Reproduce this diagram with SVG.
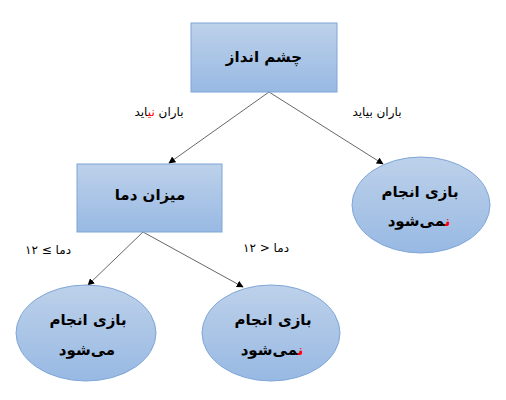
<svg xmlns="http://www.w3.org/2000/svg" width="506" height="400" viewBox="0 0 506 400">
<style>
.node{stroke:#7ea6d8;stroke-width:1}
.t{font-family:"DejaVu Sans",sans-serif;font-weight:bold;font-size:15px;fill:#000;text-anchor:middle}
.l{font-family:"DejaVu Sans",sans-serif;font-size:12px;fill:#000;text-anchor:middle}
.red{fill:#ff0000}
.c{stroke:#404040;stroke-width:0.8;fill:none;marker-end:url(#ah)}
</style>
<defs>
<linearGradient id="g" x1="0" y1="0" x2="0" y2="1">
<stop offset="0" stop-color="#bdd1ea"/>
<stop offset="1" stop-color="#98b9e3"/>
</linearGradient>
<marker id="ah" viewBox="0 0 10 10" refX="9" refY="5" markerWidth="7" markerHeight="7" markerUnits="userSpaceOnUse" orient="auto">
<path d="M0,0 L10,5 L0,10 z" fill="#000"/>
</marker>
</defs>
<rect width="506" height="400" fill="#fff"/>
<g id="connectors">
<line class="c" x1="269" y1="92" x2="169" y2="163"/>
<line class="c" x1="269" y1="92" x2="383" y2="164"/>
<line class="c" x1="143" y1="232" x2="88" y2="285"/>
<line class="c" x1="143" y1="232" x2="243" y2="287"/>
</g>
<g id="labels">
<text class="l" x="159" y="116">باران <tspan class="red">نی</tspan>اید</text>
<text class="l" x="377" y="116">باران بیاید</text>
<text class="l" x="48" y="254" direction="ltr">۱۲ ≤ دما</text>
<text class="l" x="266" y="252" direction="ltr">۱۲ &gt; دما</text>
</g>
<g id="n1">
<rect class="node" x="191" y="23" width="146" height="69" fill="url(#g)"/>
<text class="t" x="264" y="62">چشم انداز</text>
</g>
<g id="n2">
<rect class="node" x="77" y="164" width="145" height="68" fill="url(#g)"/>
<text class="t" x="150" y="200">میزان دما</text>
</g>
<g id="n3">
<ellipse class="node" cx="421" cy="205" rx="69" ry="48" fill="url(#g)"/>
<text class="t" x="420" y="197">بازی انجام</text>
<text class="t" x="419" y="226"><tspan class="red">ن</tspan>می‌شود</text>
</g>
<g id="n4">
<ellipse class="node" cx="86" cy="333" rx="70" ry="48" fill="url(#g)"/>
<text class="t" x="88" y="325">بازی انجام</text>
<text class="t" x="87" y="355">می‌شود</text>
</g>
<g id="n5">
<ellipse class="node" cx="271" cy="333" rx="69" ry="48" fill="url(#g)"/>
<text class="t" x="273" y="325">بازی انجام</text>
<text class="t" x="272" y="355"><tspan class="red">ن</tspan>می‌شود</text>
</g>
</svg>
